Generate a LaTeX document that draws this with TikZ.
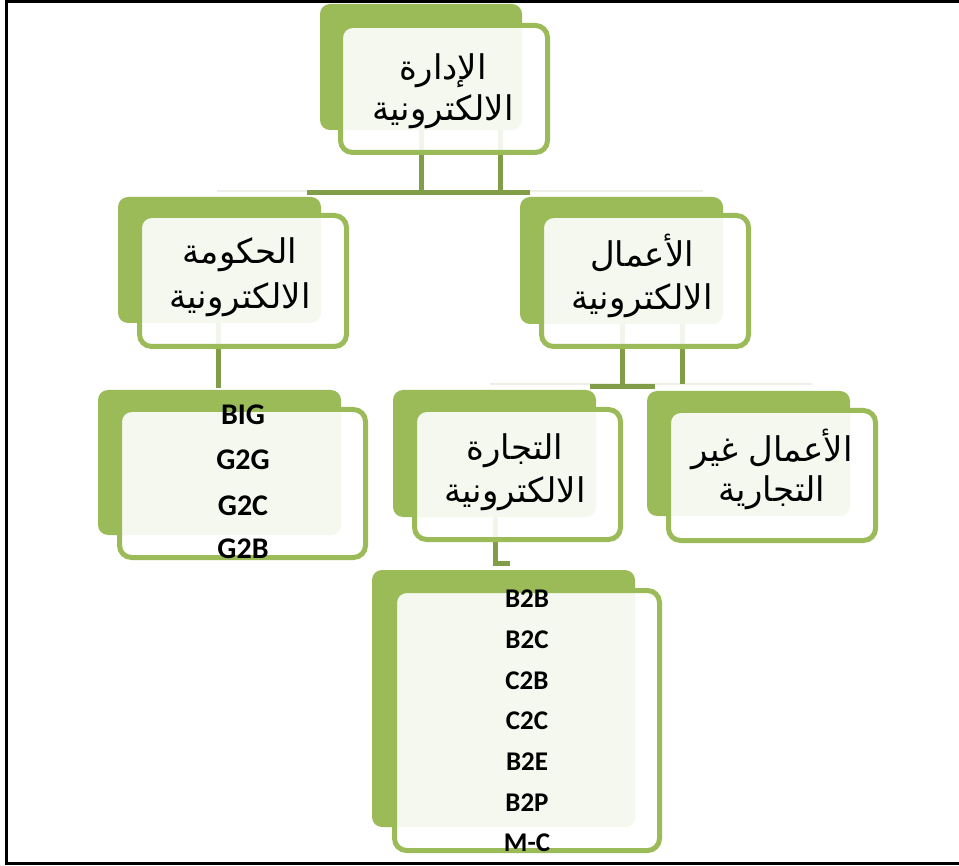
\documentclass[tikz,border=0pt]{standalone}
\usepackage{fontspec}
\setmainfont{Carlito}
\newfontfamily\arabicfont[Script=Arabic]{DejaVu Sans}
\TeXXeTstate=1
\definecolor{gback}{HTML}{9BBB59}
\definecolor{gline}{HTML}{9BBB59}
\definecolor{gconn}{HTML}{819D47}
\definecolor{faint}{HTML}{EEF0E8}
\newcommand\pairbox[9]{%
  \node[backbox, minimum width={#4pt-#2pt}, minimum height={#5pt-#3pt}] (#1B) at (#2,#3) {};
  \node[frontbox, minimum width={#8pt-#6pt-5pt}, minimum height={#9pt-#7pt-5pt}] (#1F) at (#6+2.5,#7+2.5) {};
}
\tikzset{
  backbox/.style={fill=gback, rounded corners=10pt, inner sep=0pt, outer sep=0pt, anchor=north west},
  frontbox/.style={draw=gline, line width=5pt, fill=white, fill opacity=0.9, draw opacity=1, rounded corners=12pt, inner sep=0pt, outer sep=0pt, anchor=north west},
  conn/.style={draw=gconn, line width=5pt},
  faintline/.style={draw=faint, line width=1.5pt},
  artext/.style={font=\arabicfont\fontsize{34}{34}\selectfont, inner sep=0pt, anchor=base},
  entext/.style={font=\bfseries\fontsize{30}{30}\selectfont, inner sep=0pt, anchor=base},
  ensmall/.style={font=\bfseries\fontsize{27}{27}\selectfont, inner sep=0pt, anchor=base},
}
\begin{document}
\begin{tikzpicture}[x=1pt,y=-1pt]
\useasboundingbox (0,0) rectangle (959,866);
% faint guide lines
\coordinate (f1w) at (217,191); \coordinate (f1e) at (703,191);
\coordinate (f2w) at (490,384); \coordinate (f2e) at (812,384);
\draw[faintline] (f1w) -- (f1e);
\draw[faintline] (f2w) -- (f2e);
% connector coordinates
\coordinate (a1) at (421,193); \coordinate (a2) at (500,193);
\coordinate (hw) at (307,193); \coordinate (he) at (530,193);
\coordinate (b1) at (218,300); \coordinate (b2) at (218,388);
\coordinate (c1) at (622,300); \coordinate (c1e) at (622,387);
\coordinate (c2) at (682,300); \coordinate (c2e) at (682,384);
\coordinate (cw) at (590,387); \coordinate (ce) at (655,387);
\coordinate (d1) at (495,500); \coordinate (d2) at (495,563); \coordinate (d3) at (510,563);
\coordinate (t1) at (421,100); \coordinate (t2) at (500,100);
\draw[conn] (t1) -- (a1);
\draw[conn] (t2) -- (a2);
\draw[conn] (hw) -- (he);
\draw[conn] (b1) -- (b2);
\draw[conn] (c1) -- (c1e);
\draw[conn] (c2) -- (c2e);
\draw[conn] (cw) -- (ce);
\draw[conn, line join=miter] (d1) -- (d2) -- (d3);
% boxes
\pairbox{top}{320}{4}{522}{130}{338}{23}{550}{155}
\pairbox{gov}{118}{197}{321}{323}{137}{213}{349}{349}
\pairbox{bus}{520}{197}{723}{324}{539}{213}{751}{349}
\pairbox{govl}{98}{390}{341}{535}{117}{407}{368}{560}
\pairbox{com}{393}{390}{596}{517}{412}{407}{623}{542}
\pairbox{nonc}{647}{391}{850}{516}{666}{408}{878}{543}
\pairbox{coml}{372}{570}{635}{827}{392}{588}{662}{853}
% Arabic texts
\node[artext] (topL1) at (443,80) {\beginR الإدارة\endR};
\node[artext] (topL2) at (443,121) {\beginR الالكترونية\endR};
\node[artext] (govL1) at (240,264) {\beginR الحكومة\endR};
\node[artext] (govL2) at (240,309) {\beginR الالكترونية\endR};
\node[artext] (busL1) at (642,267) {\beginR الأعمال\endR};
\node[artext] (busL2) at (642,310) {\beginR الالكترونية\endR};
\node[artext] (comL1) at (515,460) {\beginR التجارة\endR};
\node[artext] (comL2) at (515,503) {\beginR الالكترونية\endR};
\node[artext] (noncL1) at (772,462) {\beginR الأعمال غير\endR};
\node[artext] (noncL2) at (772,501) {\beginR التجارية\endR};
% English lists
\node[entext] (g1) at (243,425) {BIG};
\node[entext] (g2) at (243,470) {G2G};
\node[entext] (g3) at (243,515) {G2C};
\node[entext] (g4) at (243,558) {G2B};
\node[ensmall] (e1) at (527,607) {B2B};
\node[ensmall] (e2) at (527,648) {B2C};
\node[ensmall] (e3) at (527,689) {C2B};
\node[ensmall] (e4) at (527,729) {C2C};
\node[ensmall] (e5) at (527,770) {B2E};
\node[ensmall] (e6) at (527,811) {B2P};
\node[ensmall] (e7) at (527,851) {M-C};
% frame
\coordinate (fr1) at (959,1.5); \coordinate (fr2) at (6,1.5);
\coordinate (fr3) at (6,863.5); \coordinate (fr4) at (959,863.5);
\draw[line width=3pt, line join=miter] (fr1) -- (fr2) -- (fr3) -- (fr4);
\end{tikzpicture}
\end{document}
